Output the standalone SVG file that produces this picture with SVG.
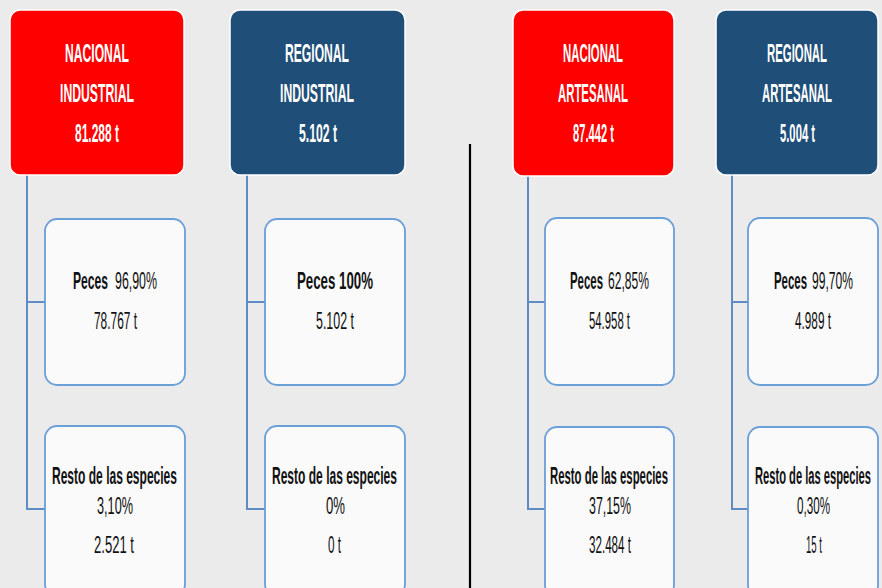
<svg xmlns="http://www.w3.org/2000/svg" width="882" height="588" viewBox="0 0 882 588">
<style>
.bg{fill:#ebebeb}
.top{stroke:#ffffff;stroke-width:1.5}
.red{fill:#ff0000}
.navy{fill:#1f4e78}
.child{fill:#fafafa;stroke:#6a9fd8;stroke-width:1.8}
.conn{fill:none;stroke:#5f8cc4;stroke-width:2}
.div{stroke:#000;stroke-width:2.2}
.tt{font-family:"Liberation Sans Narrow","Liberation Sans",Arial,sans-serif;font-weight:bold;font-size:26px;fill:#fff}
.cb{font-family:"Liberation Sans Narrow","Liberation Sans",Arial,sans-serif;font-weight:bold;font-size:23px;fill:#111}
.cr{font-family:"Liberation Sans Narrow","Liberation Sans",Arial,sans-serif;font-size:23px;fill:#111}
.n{font-weight:normal}
</style>
<rect class="bg" x="0" y="0" width="882" height="588"/>
<g id="connectors">
<path class="conn" d="M27,175 V509 H45 M27,302 H45"/>
<path class="conn" d="M247,175 V509 H265 M247,302 H265"/>
<path class="conn" d="M528,176 V509 H545 M528,302 H545"/>
<path class="conn" d="M732,175 V509 H748 M732,302 H748"/>
<line class="div" x1="470" y1="144" x2="470" y2="588"/>
</g>
<g id="nacional-industrial">
<rect class="top red" x="10" y="10" width="174" height="165" rx="10"/>
<text class="tt" x="65" y="62" textLength="64" lengthAdjust="spacingAndGlyphs">NACIONAL</text>
<text class="tt" x="60" y="102" textLength="74" lengthAdjust="spacingAndGlyphs">INDUSTRIAL</text>
<text class="tt" x="75" y="142" textLength="44" lengthAdjust="spacingAndGlyphs">81.288 t</text>
</g>
<g id="regional-industrial">
<rect class="top navy" x="230" y="10" width="175" height="165" rx="10"/>
<text class="tt" x="285" y="62" textLength="64" lengthAdjust="spacingAndGlyphs">REGIONAL</text>
<text class="tt" x="280" y="102" textLength="74" lengthAdjust="spacingAndGlyphs">INDUSTRIAL</text>
<text class="tt" x="299" y="142" textLength="38" lengthAdjust="spacingAndGlyphs">5.102 t</text>
</g>
<g id="nacional-artesanal">
<rect class="top red" x="513" y="10" width="161" height="166" rx="10"/>
<text class="tt" x="563" y="62" textLength="60" lengthAdjust="spacingAndGlyphs">NACIONAL</text>
<text class="tt" x="558" y="102" textLength="70" lengthAdjust="spacingAndGlyphs">ARTESANAL</text>
<text class="tt" x="573" y="142" textLength="41" lengthAdjust="spacingAndGlyphs">87.442 t</text>
</g>
<g id="regional-artesanal">
<rect class="top navy" x="716" y="10" width="162" height="165" rx="10"/>
<text class="tt" x="767" y="62" textLength="60" lengthAdjust="spacingAndGlyphs">REGIONAL</text>
<text class="tt" x="762" y="102" textLength="70" lengthAdjust="spacingAndGlyphs">ARTESANAL</text>
<text class="tt" x="780" y="142" textLength="35" lengthAdjust="spacingAndGlyphs">5.004 t</text>
</g>
<g id="ni-peces">
<rect class="child" x="45" y="219" width="140" height="166" rx="12"/>
<text class="cb" y="289"><tspan x="73" textLength="35" lengthAdjust="spacingAndGlyphs">Peces</tspan><tspan class="n" x="115" textLength="42" lengthAdjust="spacingAndGlyphs">96,90%</tspan></text>
<text class="cr" x="94" y="329" textLength="43" lengthAdjust="spacingAndGlyphs">78.767 t</text>
</g>
<g id="ni-resto">
<rect class="child" x="45" y="426" width="140" height="170" rx="12"/>
<text class="cb" x="52" y="484" textLength="125" lengthAdjust="spacingAndGlyphs">Resto de las especies</text>
<text class="cr" x="97" y="514" textLength="36" lengthAdjust="spacingAndGlyphs">3,10%</text>
<text class="cr" x="94" y="553" textLength="40" lengthAdjust="spacingAndGlyphs">2.521 t</text>
</g>
<g id="ri-peces">
<rect class="child" x="265" y="219" width="140" height="166" rx="12"/>
<text class="cb" x="297" y="289" textLength="76" lengthAdjust="spacingAndGlyphs">Peces 100%</text>
<text class="cr" x="316" y="329" textLength="38" lengthAdjust="spacingAndGlyphs">5.102 t</text>
</g>
<g id="ri-resto">
<rect class="child" x="265" y="426" width="140" height="170" rx="12"/>
<text class="cb" x="272" y="484" textLength="125" lengthAdjust="spacingAndGlyphs">Resto de las especies</text>
<text class="cr" x="326" y="514" textLength="19" lengthAdjust="spacingAndGlyphs">0%</text>
<text class="cr" x="328" y="553" textLength="13" lengthAdjust="spacingAndGlyphs">0 t</text>
</g>
<g id="na-peces">
<rect class="child" x="545" y="218" width="129" height="167" rx="12"/>
<text class="cb" y="289"><tspan x="570" textLength="33" lengthAdjust="spacingAndGlyphs">Peces</tspan><tspan class="n" x="608" textLength="41" lengthAdjust="spacingAndGlyphs">62,85%</tspan></text>
<text class="cr" x="589" y="329" textLength="41" lengthAdjust="spacingAndGlyphs">54.958 t</text>
</g>
<g id="na-resto">
<rect class="child" x="545" y="427" width="129" height="170" rx="12"/>
<text class="cb" x="550" y="484" textLength="118" lengthAdjust="spacingAndGlyphs">Resto de las especies</text>
<text class="cr" x="589" y="514" textLength="42" lengthAdjust="spacingAndGlyphs">37,15%</text>
<text class="cr" x="589" y="553" textLength="42" lengthAdjust="spacingAndGlyphs">32.484 t</text>
</g>
<g id="ra-peces">
<rect class="child" x="748" y="218" width="130" height="167" rx="12"/>
<text class="cb" y="289"><tspan x="774" textLength="33" lengthAdjust="spacingAndGlyphs">Peces</tspan><tspan class="n" x="812" textLength="41" lengthAdjust="spacingAndGlyphs">99,70%</tspan></text>
<text class="cr" x="795" y="329" textLength="36" lengthAdjust="spacingAndGlyphs">4.989 t</text>
</g>
<g id="ra-resto">
<rect class="child" x="748" y="427" width="130" height="170" rx="12"/>
<text class="cb" x="755" y="484" textLength="116" lengthAdjust="spacingAndGlyphs">Resto de las especies</text>
<text class="cr" x="797" y="514" textLength="33" lengthAdjust="spacingAndGlyphs">0,30%</text>
<text class="cr" x="806" y="553" textLength="16" lengthAdjust="spacingAndGlyphs">15 t</text>
</g>
</svg>
